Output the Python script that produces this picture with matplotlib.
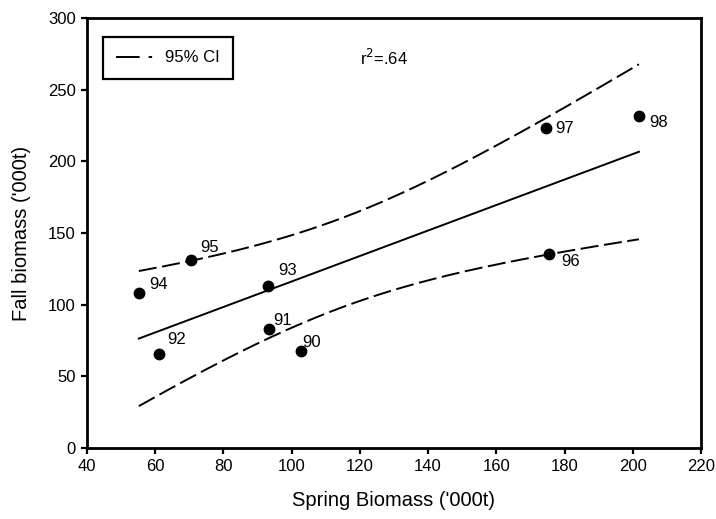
import numpy as np
import matplotlib.pyplot as plt
from matplotlib.lines import Line2D

plt.rcParams['font.family'] = ['Liberation Sans', 'DejaVu Sans']
plt.rcParams['lines.scale_dashes'] = False

# data
years = ['90', '91', '92', '93', '94', '95', '96', '97', '98']
spring = [102.7, 93.4, 61.1, 93, 55.2, 70.5, 175.5, 174.5, 201.8]
fall = [67.5, 83, 65.8, 113.2, 108, 131, 135.3, 223.5, 231.8]
# label offsets (pixels) from each point
label_off = [(1, 9), (4, 9), (8, 14), (10, 15), (10, 9), (9, 13), (12, -7), (9, -1), (10, -7)]

x = np.array(spring)
y = np.array(fall)
n = len(x)
slope, icept = np.polyfit(x, y, 1)
resid = y - (icept + slope * x)
s = np.sqrt(np.sum(resid ** 2) / (n - 2))
t = 2.365  # t(0.975, 7)
xs = np.linspace(x.min(), x.max(), 200)
fit = icept + slope * xs
half = t * s * np.sqrt(1.0 / n + (xs - x.mean()) ** 2 / np.sum((x - x.mean()) ** 2))

fig = plt.figure(figsize=(7.16, 5.19), dpi=100)
ax = fig.add_axes([87 / 716, 71 / 519, 614 / 716, 430 / 519])

ax.plot(xs, fit, color='black', lw=1.4)
ax.plot(xs, fit + half, color='black', lw=1.4, dashes=(13, 4))
ax.plot(xs, fit - half, color='black', lw=1.4, dashes=(13, 4))
ax.plot(x, y, 'o', color='black', ms=7.5, zorder=3)
for xi, yi, lab, off in zip(x, y, years, label_off):
    ax.annotate(lab, (xi, yi), xytext=off, textcoords='offset pixels',
                fontsize=12, va='center', ha='left')

ax.set_xlim(40, 220)
ax.set_ylim(0, 300)
ax.set_xticks(np.arange(40, 221, 20))
ax.set_yticks(np.arange(0, 301, 50))
ax.tick_params(direction='out', length=4, width=1.6, labelsize=12, color='black', pad=4)
for sp in ax.spines.values():
    sp.set_linewidth(2)
ax.set_xlabel("Spring Biomass ('000t)", fontsize=14.5, labelpad=12)
ax.set_ylabel("Fall biomass ('000t)", fontsize=14.5, labelpad=12)

handle = Line2D([], [], color='black', lw=1.4, dashes=(17, 6.5, 2.5, 60))
leg = fig.legend([handle], ['95% CI'], loc='upper left',
                 bbox_to_anchor=(103 / 716, 1 - 37 / 519), borderaxespad=0,
                 fontsize=12, frameon=True, fancybox=False, handlelength=2.2,
                 borderpad=0.8, handletextpad=0.7)
leg.get_frame().set_edgecolor('black')
leg.get_frame().set_linewidth(1.6)
leg.get_frame().set_alpha(1)

ax.text(120, 272, r'r$^2$=.64', fontsize=12, ha='left', va='center')

fig.savefig('out.png', dpi=100)
